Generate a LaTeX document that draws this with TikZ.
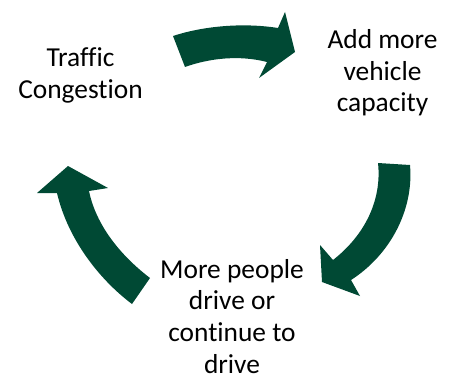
\documentclass[tikz,border=0pt]{standalone}
\usepackage{fontspec}
\setmainfont{Carlito}[Ligatures=NoCommon]
\definecolor{arrowgreen}{RGB}{0,73,52}
\tikzset{
  blockarrow/.style={fill=arrowgreen, draw=none},
  label/.style={align=center, font=\fontsize{27.4pt}{31.6pt}\selectfont, inner sep=0pt, text=black}
}
\begin{document}
\begin{tikzpicture}[x=1pt,y=-1pt]
\useasboundingbox (0,0) rectangle (452,377);
% top arrow
\fill[blockarrow] (173,36) .. controls (200,27) and (240,22) .. (278,28) -- (285,12) -- (295,52) -- (259,78) -- (267,62) .. controls (240,55) and (210,58) .. (185,67) -- cycle;
% right arrow
\fill[blockarrow] (378,163) -- (410,165) .. controls (414,210) and (390,255) .. (351,280) -- (360,296) -- (322,282) -- (320,245) -- (333,260) .. controls (365,235) and (382,200) .. cycle;
% left arrow
\fill[blockarrow] (150,278) -- (132,304) .. controls (100,280) and (68,240) .. (57,193) -- (37,193) -- (68,166) -- (108,188) -- (89,191) .. controls (96,225) and (120,255) .. cycle;
\node[label, anchor=base] (t1) at (80.5,98.3) {Traffic\\Congestion};
\node[label, anchor=base] (t2) at (382.5,111.7) {Add more\\vehicle\\capacity};
\node[label, anchor=base, text depth=0pt] (t3) at (232,373) {More people\\drive or\\continue to\\drive};
\end{tikzpicture}
\end{document}
